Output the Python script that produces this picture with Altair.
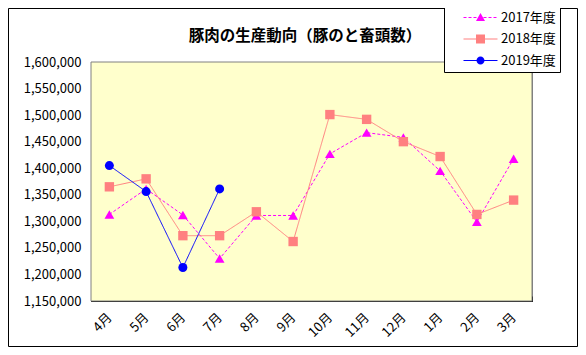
import altair as alt
import pandas as pd

months = ["4月", "5月", "6月", "7月", "8月", "9月", "10月", "11月", "12月", "1月", "2月", "3月"]
series = ["2017年度", "2018年度", "2019年度"]
v2017 = [1313000, 1361000, 1312000, 1230000, 1311000, 1311000, 1427000, 1467000, 1458000, 1395000, 1299000, 1418000]
v2018 = [1365000, 1380000, 1273000, 1273000, 1318000, 1262000, 1501000, 1492000, 1450000, 1422000, 1313000, 1340000]
v2019 = [1405000, 1356000, 1213000, 1361000]
y_ticks = [1150000, 1200000, 1250000, 1300000, 1350000, 1400000, 1450000, 1500000, 1550000, 1600000]
title_text = "豚肉の生産動向（豚のと畜頭数）"

colors = ["#FF00FF", "#FF8080", "#0000FF"]
shapes = ["triangle-up", "square", "circle"]
marker_sizes = [95, 81, 64]
dashes = [[3, 2], [1, 0], [1, 0]]
FONT = "Noto Sans CJK JP"
W, H = 441, 239

rows = []
for s, vals in zip(series, [v2017, v2018, v2019]):
    for m, v in zip(months, vals):
        rows.append({"month": m, "value": v, "series": s})
df = pd.DataFrame(rows)
legend_df = pd.DataFrame({"series": series})

# legend symbols: line segment + marker, unit = sqrt(size)/2 px
LEG_SIZE = 144
u = (LEG_SIZE ** 0.5) / 2.0
half_len = 17 / u
th = 0.5 / u


def seg(a, b):
    return f"M{a:.3f},{-th:.3f}H{b:.3f}V{th:.3f}H{a:.3f}Z"


def line_path(dash):
    if dash[1] == 0:
        return seg(-half_len, half_len)
    on, off = dash[0] / u, dash[1] / u
    out, a = [], -half_len
    while a < half_len:
        out.append(seg(a, min(a + on, half_len)))
        a += on + off
    return "".join(out)


m = 4.5 / u
tri = f"M0,{-m:.3f}L{m:.3f},{m*0.8:.3f}L{-m:.3f},{m*0.8:.3f}Z"
sq = f"M{-m:.3f},{-m:.3f}H{m:.3f}V{m:.3f}H{-m:.3f}Z"
r = 4 / u
circ = f"M{r:.3f},0A{r:.3f},{r:.3f} 0 1,1 {-r:.3f},0A{r:.3f},{r:.3f} 0 1,1 {r:.3f},0Z"
legend_paths = [line_path(dashes[0]) + tri, line_path(dashes[1]) + sq, line_path(dashes[2]) + circ]

x_enc = alt.X(
    "month:N", sort=months, title=None, bandPosition=0.5,
    scale=alt.Scale(type="band", paddingInner=0, paddingOuter=0),
    axis=alt.Axis(labelAngle=315, labelAlign="right", labelBaseline="middle",
                  labelPadding=19, tickBand="extent", tickSize={"expr": "-5"},
                  labelFontSize=13, labelFont=FONT, labelColor="black",
                  domainColor="black", tickColor="black"),
)
y_enc = alt.Y(
    "value:Q", title=None,
    scale=alt.Scale(domain=[1150000, 1600000], nice=False, zero=False),
    axis=alt.Axis(values=y_ticks, format=",.0f", tickSize={"expr": "-5"}, labelPadding=15,
                  labelFontSize=13, labelFont=FONT, labelColor="black",
                  domainColor="black", tickColor="black", grid=False),
)

plot_bg = alt.Chart(pd.DataFrame({"a": [0]})).mark_rect(
    fill="#FFFFCC", stroke="#808080", strokeWidth=1
).encode(x=alt.value(0), x2=alt.value(W), y=alt.value(0), y2=alt.value(H))

base = alt.Chart(df)
lines = base.mark_line(strokeWidth=1).encode(
    x=x_enc, y=y_enc,
    color=alt.Color("series:N", scale=alt.Scale(domain=series, range=colors), legend=None),
    strokeDash=alt.StrokeDash("series:N", scale=alt.Scale(domain=series, range=dashes), legend=None),
)
points = base.mark_point(filled=True, opacity=1).encode(
    x=x_enc, y=y_enc,
    color=alt.Color("series:N", scale=alt.Scale(domain=series, range=colors), legend=None),
    shape=alt.Shape("series:N", scale=alt.Scale(domain=series, range=shapes), legend=None),
    size=alt.Size("series:N", scale=alt.Scale(domain=series, range=marker_sizes), legend=None),
)

leg = alt.Legend(title=None, orient="none", legendX=353, legendY=-55,
                 strokeColor="black", fillColor="white", padding=4, rowPadding=7.5,
                 labelFontSize=13, labelFont=FONT, labelColor="black",
                 symbolSize=LEG_SIZE, symbolOffset=26, labelOffset=14,
                 symbolStrokeWidth=0, symbolOpacity=1,
                 labelExpr="datum.label + '\u2002'")
legend_layer = alt.Chart(legend_df).mark_point(filled=True, opacity=0).encode(
    color=alt.Color("series:N", scale=alt.Scale(domain=series, range=colors), legend=leg),
    shape=alt.Shape("series:N", scale=alt.Scale(domain=series, range=legend_paths), legend=leg),
)

title_layer = alt.Chart(pd.DataFrame({"t": [title_text]})).mark_text(
    font=FONT, fontSize=15.5, fontWeight="bold", color="black", align="center", baseline="middle"
).encode(text="t:N", x=alt.value(214), y=alt.value(-26))

frame = alt.Chart(pd.DataFrame({"a": [0]})).mark_rect(
    fillOpacity=0, stroke="black", strokeWidth=1
).encode(x=alt.value(-82.5), x2=alt.value(486.5), y=alt.value(-53.5), y2=alt.value(284.5))

chart = alt.layer(plot_bg, lines, points, legend_layer, title_layer, frame).resolve_scale(
    color="independent", shape="independent"
).properties(
    width=W, height=H,
    autosize=alt.AutoSizeParams(type="none"),
    padding={"left": 83, "top": 54, "right": 46, "bottom": 46},
    background="white",
).configure_view(
    stroke="#808080", fill="#FFFFCC"
)

chart.save("out.html", embed_options={"renderer": "svg", "actions": False})
